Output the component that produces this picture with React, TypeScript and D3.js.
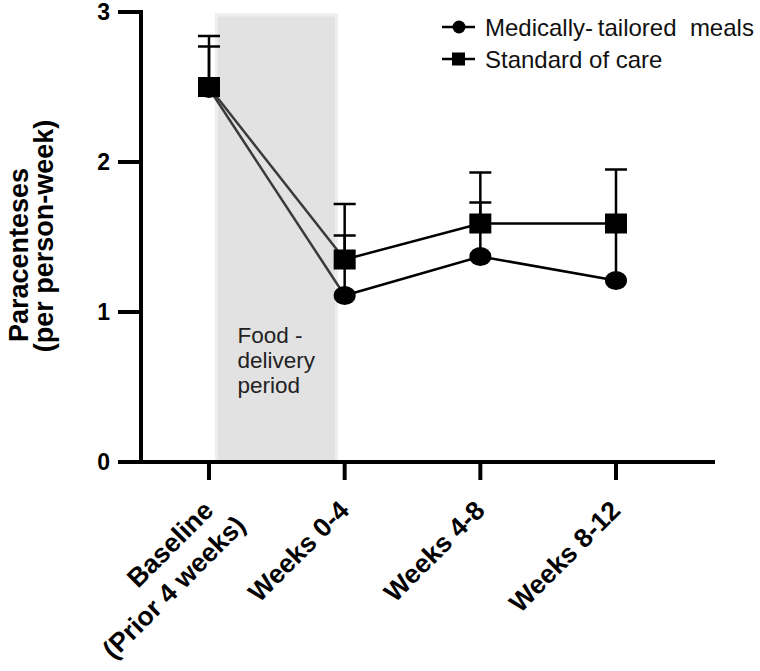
import React from "react";
import * as d3 from "d3";

const categories = ["Baseline", "Weeks 0-4", "Weeks 4-8", "Weeks 8-12"];
const categoryLines = [["Baseline", "(Prior 4 weeks)"], ["Weeks 0-4"], ["Weeks 4-8"], ["Weeks 8-12"]];
const mtmMean = [2.49, 1.11, 1.37, 1.21];
const mtmUpper = [2.77, 1.51, 1.73, 1.58];
const socMean = [2.5, 1.35, 1.59, 1.59];
const socUpper = [2.84, 1.72, 1.93, 1.95];
const yTicks = [0, 1, 2, 3];
const seriesNames = ["Medically-\u2009tailored  meals", "Standard of care"];
const bandLines = ["Food -", "delivery", "period"];

const FONT = "'Liberation Sans', Arial, sans-serif";

export default function App() {
  const x = d3.scalePoint<string>().domain(categories).range([209, 616]);
  const y = d3.scaleLinear().domain([0, 3]).range([462, 12]);
  const step = x.step();
  const laterLine = d3
    .line<number>()
    .x((_, i) => x(categories[i + 1]) as number)
    .y((d) => y(d));

  const bandX0 = (x(categories[0]) as number) + step * 0.055;
  const bandX1 = (x(categories[1]) as number) - step * 0.06;

  const segPath = (arr: number[], a: number, b: number) =>
    `M${x(categories[a])},${y(arr[a])}L${x(categories[b])},${y(arr[b])}`;

  const errBar = (mean: number[], upper: number[], key: string) =>
    categories.map((c, i) => {
      const cx = x(c) as number;
      return (
        <g key={key + i} stroke="#000" strokeWidth={2.5}>
          <line x1={cx} x2={cx} y1={y(mean[i])} y2={y(upper[i])} />
          <line x1={cx - 11} x2={cx + 11} y1={y(upper[i])} y2={y(upper[i])} />
        </g>
      );
    });

  return (
    <svg width={760} height={671} style={{ position: "absolute", left: 0, top: 0, background: "#fff" }} fontFamily={FONT}>
      {/* shaded food-delivery band */}
      <rect x={bandX0} y={y(2.98)} width={bandX1 - bandX0} height={y(0) - y(2.98)} fill="#e2e2e2" stroke="#eeeeee" strokeWidth={3} />
      {bandLines.map((t, i) => (
        <text key={t} x={bandX0 + 21} y={343 + i * 25} fontSize={22.5} fill="#222">
          {t}
        </text>
      ))}

      {/* y axis */}
      <line x1={141} x2={141} y1={y(3) - 2} y2={y(0) + 2} stroke="#000" strokeWidth={4} />
      {yTicks.map((t) => (
        <g key={t}>
          <line x1={118} x2={141} y1={y(t)} y2={y(t)} stroke="#000" strokeWidth={4} />
          <text x={110} y={y(t)} dy="0.36em" textAnchor="end" fontSize={23} fontWeight="bold">
            {t}
          </text>
        </g>
      ))}
      <text transform={`translate(28,255) rotate(-90)`} textAnchor="middle" fontSize={27} fontWeight="bold">
        Paracenteses
      </text>
      <text transform={`translate(53,236) rotate(-90)`} textAnchor="middle" fontSize={27} fontWeight="bold">
        (per person-week)
      </text>

      {/* x axis */}
      <line x1={118} x2={715} y1={y(0)} y2={y(0)} stroke="#000" strokeWidth={4} />
      {categories.map((c, i) => {
        const cx = x(c) as number;
        return (
          <g key={c}>
            <line x1={cx} x2={cx} y1={y(0)} y2={y(0) + 18} stroke="#000" strokeWidth={4} />
            <text transform={`translate(${cx + 6},${512}) rotate(-45)`} textAnchor="end" fontSize={26.5} fontWeight="bold">
              {categoryLines[i].map((l, j) => (
                <tspan key={j} x={j * 12} dy={j === 0 ? 0 : "1.25em"}>
                  {l}
                </tspan>
              ))}
            </text>
          </g>
        );
      })}

      {/* connecting lines */}
      <path d={segPath(mtmMean, 0, 1)} stroke="#3a3a3a" strokeWidth={2.5} fill="none" />
      <path d={segPath(socMean, 0, 1)} stroke="#3a3a3a" strokeWidth={2.5} fill="none" />
      <path d={laterLine(mtmMean.slice(1)) as string} stroke="#000" strokeWidth={2.5} fill="none" />
      <path d={laterLine(socMean.slice(1)) as string} stroke="#000" strokeWidth={2.5} fill="none" />

      {/* error bars */}
      {errBar(mtmMean, mtmUpper, "m")}
      {errBar(socMean, socUpper, "s")}

      {/* markers */}
      {categories.map((c, i) => (
        <ellipse key={"c" + i} cx={x(c) as number} cy={y(mtmMean[i])} rx={11} ry={9.5} fill="#000" />
      ))}
      {categories.map((c, i) => (
        <rect key={"r" + i} x={(x(c) as number) - 11} y={y(socMean[i]) - 10} width={22} height={20} fill="#000" />
      ))}

      {/* legend */}
      {seriesNames.map((s, i) => {
        const ly = 27 + i * 32;
        return (
          <g key={s}>
            <line x1={442} x2={475} y1={ly} y2={ly} stroke="#000" strokeWidth={2.5} />
            {i === 0 ? <circle cx={459} cy={ly} r={6.5} fill="#000" /> : <rect x={452} y={ly - 6.5} width={13} height={13} fill="#000" />}
            <text x={485} y={ly} dy="0.36em" fontSize={24} fill="#111" style={{ whiteSpace: "pre" }}>
              {s}
            </text>
          </g>
        );
      })}
    </svg>
  );
}
